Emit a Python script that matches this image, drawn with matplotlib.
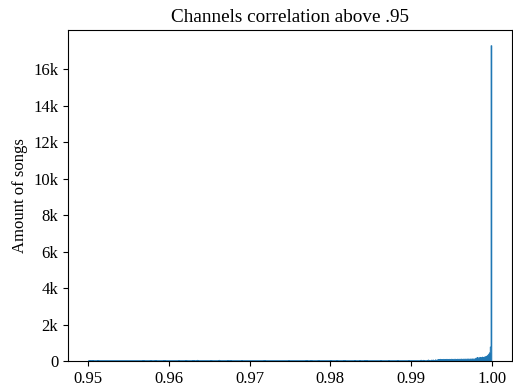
import numpy as np
import matplotlib.pyplot as plt
from matplotlib.ticker import FuncFormatter

plt.rcParams['font.family'] = ['Liberation Serif', 'DejaVu Serif']
plt.rcParams['font.size'] = 12

# scattered songs between .95 and .993
sparse_vals = [0.95025, 0.95055, 0.95125, 0.95685, 0.95775, 0.95835, 0.95945, 0.96125, 0.96215,
               0.96305, 0.96355, 0.96525, 0.96625, 0.96735, 0.96765, 0.96905, 0.97185, 0.97485,
               0.97705, 0.97765, 0.97855, 0.98005, 0.98085, 0.98175, 0.98305, 0.98365, 0.98435,
               0.98455, 0.98625, 0.98725, 0.98835, 0.98975, 0.99125, 0.99155, 0.99215, 0.99255,
               0.99275, 0.99305]
sparse_counts = [30, 25, 20, 20, 25, 20, 30, 25, 20,
                 30, 35, 20, 35, 25, 20, 25, 20, 20,
                 20, 20, 25, 25, 20, 25, 25, 20, 30,
                 25, 20, 20, 25, 25, 40, 35, 50, 45,
                 50, 60]

# flat stretch from .9933 to .998
plateau_vals = [0.99335, 0.99345, 0.99355, 0.99365, 0.99375, 0.99385, 0.99395, 0.99405,
                0.99415, 0.99425, 0.99435, 0.99445, 0.99455, 0.99465, 0.99475, 0.99485,
                0.99495, 0.99505, 0.99515, 0.99525, 0.99535, 0.99545, 0.99555, 0.99565,
                0.99575, 0.99585, 0.99595, 0.99605, 0.99615, 0.99625, 0.99635, 0.99645,
                0.99655, 0.99665, 0.99675, 0.99685, 0.99695, 0.99705, 0.99715, 0.99725,
                0.99735, 0.99745, 0.99755, 0.99765, 0.99775, 0.99785, 0.99795]
plateau_counts = [80, 85, 80, 90, 85, 80, 85, 90, 85, 80, 90, 85, 90, 85, 90, 85,
                  90, 95, 85, 90, 90, 95, 90, 85, 95, 90, 95, 90, 95, 100, 90, 95,
                  100, 95, 100, 95, 100, 105, 100, 95, 105, 100, 105, 110, 100, 105, 110]

# steep rise right before 1.0
tail_vals = [0.99805, 0.99815, 0.99825, 0.99835, 0.99845, 0.99855, 0.99865, 0.99875,
             0.99885, 0.99895, 0.99905, 0.99915, 0.99925, 0.99935, 0.99945, 0.99955,
             0.99965, 0.99975, 0.99985, 0.99995]
tail_counts = [150, 160, 190, 150, 160, 200, 170, 180, 210, 190,
               200, 220, 230, 250, 280, 320, 380, 450, 770, 17300]

values = sparse_vals + plateau_vals + tail_vals
counts = sparse_counts + plateau_counts + tail_counts

y_ticks = [0, 2000, 4000, 6000, 8000, 10000, 12000, 14000, 16000]
x_ticks = [0.95, 0.96, 0.97, 0.98, 0.99, 1.00]

fig = plt.figure(figsize=(5.13, 3.89), dpi=100)
ax = fig.add_axes([0.1326, 0.072, 0.8655, 0.851])

bins = np.linspace(0.95, 1.0, 501)
ax.hist(values, bins=bins, weights=counts, histtype='stepfilled',
        color='#1f77b4', edgecolor='#1f77b4', linewidth=0.6)

ax.set_yticks(y_ticks)
ax.yaxis.set_major_formatter(FuncFormatter(lambda v, p: '0' if v == 0 else f'{v/1000:.0f}k'))
ax.set_xticks(x_ticks)
ax.set_xticklabels([f'{t:.2f}' for t in x_ticks])
ax.set_ylabel('Amount of songs')
ax.set_title('Channels correlation above .95', fontsize=13.8)

fig.savefig('out.png', dpi=100)
